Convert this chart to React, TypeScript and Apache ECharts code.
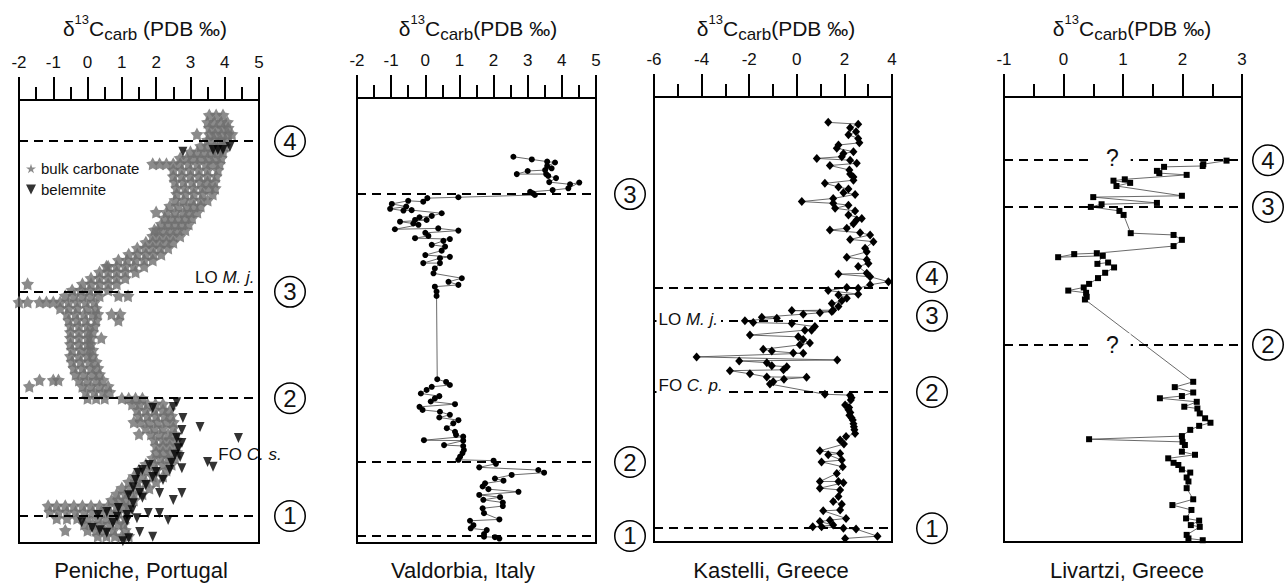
import React, { useEffect, useRef } from 'react';
import * as echarts from 'echarts';

// ---------- Tick / axis ranges ----------
const penicheRange = [-2, 5, 1];
const valdorbiaRange = [-2, 5, 1];
const kastelliRange = [-6, 4, 2];
const livartziRange = [-1, 3, 1];

// ---------- Site names ----------
const siteNames = ['Peniche, Portugal', 'Valdorbia, Italy', 'Kastelli, Greece', 'Livartzi, Greece'];

// ---------- Peniche, bulk carbonate: [height, d13C values...] ----------
const penicheBulkRows = [
  [96.6, 3.55, 3.75, 3.95],
  [95.0, 3.5, 3.7, 3.9, 4.08],
  [93.7, 3.55, 3.75, 3.95, 4.1],
  [92.3, 3.19, 3.55, 3.72, 3.9, 4.1, 4.21],
  [91.0, 3.5, 3.7, 3.88, 4.02],
  [89.6, 3.3, 3.5, 3.7, 3.88, 4.0],
  [88.3, 3.0, 3.2, 3.42, 3.62, 3.8, 3.95],
  [86.9, 2.7, 2.9, 3.1, 3.3, 3.5, 3.7, 3.9],
  [85.6, 1.9, 2.1, 2.3, 2.5, 2.7, 2.95, 3.2, 3.45, 3.65, 3.85],
  [84.2, 2.5, 2.75, 3.0, 3.25, 3.5, 3.8],
  [82.8, 2.5, 2.75, 3.0, 3.25, 3.5, 3.75],
  [81.5, 2.55, 2.8, 3.05, 3.3, 3.5, 3.7],
  [80.1, 2.6, 2.85, 3.1, 3.35, 3.55, 3.72],
  [78.8, 2.6, 2.85, 3.1, 3.35, 3.65],
  [77.4, 2.55, 2.8, 3.05, 3.3, 3.5],
  [76.1, 2.4, 2.65, 2.9, 3.1, 3.3],
  [74.7, 2.0, 2.3, 2.55, 2.8, 3.0, 3.2],
  [73.4, 2.25, 2.45, 2.65, 2.85, 3.05],
  [72.0, 2.15, 2.35, 2.55, 2.75, 2.95],
  [70.7, 1.95, 2.05, 2.25, 2.45, 2.65, 2.85],
  [69.3, 1.9, 2.1, 2.3, 2.5, 2.7],
  [67.9, 1.7, 1.9, 2.1, 2.3, 2.5],
  [66.6, 1.45, 1.68, 1.9, 2.12, 2.35],
  [65.2, 1.2, 1.45, 1.7, 1.92, 2.15],
  [63.9, 0.9, 1.15, 1.4, 1.65, 1.9],
  [62.5, 0.55, 0.6, 0.85, 1.1, 1.35, 1.65],
  [61.2, 0.35, 0.6, 0.85, 1.1, 1.4],
  [59.8, 0.1, 0.35, 0.6, 0.85, 1.1],
  [58.5, -1.75, -0.15, 0.1, 0.35, 0.6, 0.85],
  [57.1, -0.45, -0.2, 0.05, 0.3, 0.6],
  [55.8, -0.65, -0.4, -0.15, 0.1, 0.35, 0.9, 1.18],
  [54.4, -2.0, -1.75, -1.4, -1.2, -1.0, -0.8, -0.55, -0.3, -0.05, 0.2],
  [53.0, -0.8, -0.55, -0.3, 0.0, 0.25],
  [51.7, -0.6, -0.35, -0.1, 0.15, 0.3, 0.7, 0.95],
  [50.3, -0.55, -0.3, -0.05, 0.25, 0.9],
  [49.0, -0.5, -0.25, 0.0, 0.2],
  [47.6, -0.5, -0.25, 0.0, 0.15],
  [46.3, -0.5, -0.25, 0.0, 0.1, 0.4],
  [44.9, -0.5, -0.25, 0.0, 0.1],
  [43.6, -0.45, -0.2, 0.0, 0.15],
  [42.2, -0.5, -0.25, 0.0, 0.15],
  [40.9, -0.45, -0.2, 0.05, 0.25],
  [39.5, -0.4, -0.15, 0.1, 0.3],
  [38.1, -0.35, -0.1, 0.15, 0.35],
  [36.8, -1.4, -1.0, -0.85, -0.25, 0.0, 0.25, 0.45],
  [35.4, -1.7, -0.15, 0.1, 0.35, 0.6],
  [34.1, -0.05, 0.2, 0.45, 0.65],
  [32.7, 0.0, 0.25, 0.5, 1.0, 1.2, 1.4, 1.6],
  [31.4, 1.3, 1.52, 1.75, 1.98, 2.2],
  [30.0, 1.45, 1.7, 1.95, 2.2, 2.4],
  [28.7, 1.5, 1.75, 2.0, 2.25, 2.45],
  [27.3, 1.35, 1.55, 1.8, 2.05, 2.3, 2.5],
  [26.0, 1.7, 1.95, 2.2, 2.5],
  [24.6, 1.5, 1.85, 2.1, 2.35, 2.55],
  [23.3, 1.95, 2.2, 2.4, 2.6],
  [21.9, 2.0, 2.2, 2.4, 2.6],
  [20.5, 2.0, 2.2, 2.4, 2.6],
  [19.2, 1.9, 2.12, 2.35, 2.55],
  [17.8, 1.7, 1.95, 2.2, 2.45],
  [16.5, 1.5, 1.75, 2.0, 2.3],
  [15.1, 1.35, 1.6, 1.9, 2.2],
  [13.8, 1.2, 1.45, 1.7, 2.0],
  [12.4, 1.0, 1.25, 1.5, 1.8],
  [11.1, 0.85, 1.1, 1.35, 1.6],
  [9.7, 0.7, 0.9, 1.1, 1.35],
  [8.4, -1.15, -0.9, -0.65, -0.4, -0.15, 0.1, 0.35, 0.6, 0.85, 1.05, 1.2],
  [7.0, -1.1, -0.85, -0.6, -0.35, -0.1, 0.15, 0.4, 0.65, 0.9, 1.15],
  [5.6, -0.9, -0.6, -0.3, 0.0, 0.3, 0.55, 0.8, 1.1],
  [4.3, -0.1, 0.15, 0.4, 0.65, 0.9, 1.05],
  [2.9, -0.65, 0.0, 0.25, 0.5, 0.75, 1.1],
  [1.6, 0.3, 0.55, 0.8, 1.0, 1.2],
];

// ---------- Peniche, belemnite: [d13C, height] ----------
const penicheBelemnite = [
  [2.78, 88.3], [3.66, 88.7], [3.8, 88.7], [3.95, 88.7], [4.15, 89.4],
  [2.6, 31.8], [2.5, 30.7], [1.9, 30.5], [2.78, 28.2], [3.28, 26.2], [4.4, 23.7], [2.75, 22.6],
  [2.6, 23.7], [2.75, 25.5], [2.7, 19.4], [2.55, 19.9], [2.65, 21.4], [3.5, 18.3], [3.66, 17.2],
  [2.75, 16.9], [2.45, 18.1], [2.4, 16.5], [2.2, 14.2], [1.9, 14.9], [2.0, 16.0], [1.8, 17.6],
  [1.6, 16.5], [1.47, 15.8], [1.4, 14.2], [1.7, 13.1], [1.33, 12.6], [1.52, 11.3], [2.1, 11.3],
  [2.75, 11.3], [2.5, 9.7], [1.2, 10.8], [1.6, 10.2], [1.33, 9.0], [0.9, 7.9], [1.3, 7.4],
  [0.56, 7.0], [1.77, 6.8], [2.1, 6.8], [1.15, 6.3], [0.3, 6.3], [0.86, 5.9], [1.44, 5.6],
  [2.35, 5.2], [1.15, 5.0], [-0.17, 4.7], [0.74, 4.5], [0.13, 3.4], [0.36, 2.9], [1.52, 2.5],
  [0.56, 2.3], [1.9, 1.4], [1.2, 1.1], [1.03, 0.4],
];

// ---------- Valdorbia: [d13C, height] ----------
const valdorbiaData = [
  [2.58, 86.8], [3.12, 86.2], [3.57, 85.7], [3.8, 85.5], [3.57, 84.7], [3.7, 84.2], [3.51, 83.8],
  [3.0, 83.6], [2.68, 82.9], [3.54, 82.9], [3.6, 82.5], [3.83, 82.0], [3.63, 81.1], [4.24, 80.6],
  [4.51, 81.0], [4.19, 79.7], [3.73, 79.3], [3.07, 78.9], [3.15, 78.6], [3.21, 78.2], [0.97, 77.7],
  [0.06, 77.5], [-0.06, 76.7], [-0.5, 76.9], [-0.98, 76.2], [-0.56, 75.6], [-1.03, 75.1],
  [-0.64, 74.7], [-0.4, 74.8], [0.48, 74.1], [0.19, 73.5], [-0.17, 73.2], [-0.3, 72.6], [0.04, 72.6],
  [-0.74, 72.2], [-0.35, 71.8], [-0.2, 71.5], [-0.89, 70.5], [0.38, 70.7], [0.97, 70.2], [0.0, 69.7],
  [0.09, 69.0], [-0.3, 68.5], [0.72, 68.3], [0.53, 67.9], [0.19, 67.0], [0.58, 66.6], [0.48, 65.7],
  [0.0, 64.7], [0.72, 64.3], [0.43, 64.0], [-0.06, 62.9], [0.43, 62.9], [0.28, 61.7], [0.24, 60.6],
  [1.07, 59.5], [0.68, 58.7], [0.97, 58.0], [0.28, 57.6], [0.33, 56.5], [0.33, 55.5], [0.35, 36.8],
  [0.61, 36.2], [0.72, 35.5], [0.19, 35.1], [0.04, 34.4], [-0.13, 33.6], [0.41, 33.0], [0.28, 32.5],
  [0.16, 31.8], [0.87, 31.2], [-0.17, 30.6], [-0.08, 29.9], [0.43, 29.5], [0.72, 28.8], [0.41, 28.2],
  [0.97, 27.6], [0.82, 26.9], [0.63, 25.8], [0.87, 25.0], [0.9, 24.3], [1.11, 23.9], [-0.04, 23.1],
  [1.11, 23.0], [0.55, 22.0], [1.11, 21.8], [1.13, 20.9], [1.09, 20.2], [1.02, 19.4], [0.97, 18.7],
  [2.0, 18.5], [2.07, 17.8], [1.58, 17.0], [3.31, 16.4], [3.48, 15.8], [2.53, 15.3], [2.04, 14.5],
  [2.29, 14.0], [1.75, 13.4], [1.68, 12.7], [1.85, 12.1], [2.73, 11.5], [1.58, 10.8], [2.19, 10.3],
  [1.7, 9.7], [2.27, 9.1], [2.27, 8.3], [1.68, 7.8], [1.72, 6.7], [2.17, 5.3], [1.31, 5.0],
  [1.41, 4.0], [1.33, 3.3], [1.8, 2.9], [1.72, 2.0], [1.72, 1.4], [2.04, 1.3], [2.17, 1.0],
];

// ---------- Kastelli: [d13C, height] ----------
const kastelliData = [
  [1.32, 94.3], [2.58, 93.9], [2.24, 93.1], [2.49, 92.2], [2.17, 91.5], [2.58, 90.7], [2.63, 89.7],
  [1.75, 89.2], [1.68, 88.5], [2.38, 87.7], [1.96, 87.3], [1.89, 86.6], [0.84, 86.2], [2.24, 85.8],
  [2.52, 85.1], [1.39, 84.6], [2.21, 83.6], [2.24, 82.7], [2.38, 82.0], [2.38, 81.3], [1.18, 80.6],
  [1.75, 79.8], [2.17, 79.3], [1.96, 78.5], [2.45, 78.1], [1.53, 77.2], [0.21, 76.5], [1.53, 76.1],
  [2.17, 75.7], [1.61, 75.0], [2.45, 74.4], [2.17, 73.5], [2.73, 72.7], [2.52, 72.4], [2.38, 71.5],
  [2.1, 70.5], [1.39, 70.1], [2.66, 69.5], [3.08, 69.0], [2.24, 68.0], [3.22, 67.5], [2.87, 66.0],
  [2.94, 65.2], [2.1, 64.0], [2.94, 63.4], [3.01, 62.6], [2.58, 61.9], [2.94, 60.4], [1.75, 60.2],
  [3.08, 59.6], [3.85, 58.5], [3.08, 57.8], [2.58, 57.0], [2.1, 57.2], [1.32, 56.5], [2.58, 55.7],
  [1.75, 55.5], [2.1, 54.8], [1.89, 54.2], [1.47, 53.6], [1.75, 52.9], [1.53, 52.1], [-0.21, 52.0],
  [1.47, 51.8], [0.97, 51.5], [0.27, 51.2], [-1.47, 50.5], [-0.84, 50.3], [-2.18, 49.7], [-1.83, 49.3],
  [-0.21, 49.1], [0.76, 48.4], [0.62, 47.6], [0.34, 47.6], [-1.97, 46.5], [0.06, 46.1], [0.27, 45.5],
  [0.55, 44.7], [0.13, 44.3], [-1.41, 43.3], [-1.05, 42.9], [-0.15, 42.5], [0.27, 42.4], [-4.21, 41.6],
  [1.7, 40.9], [-2.42, 40.7], [-1.26, 40.3], [-1.05, 39.6], [-0.42, 39.4], [-0.56, 38.7], [-2.81, 38.5],
  [-1.97, 37.8], [-1.26, 37.1], [0.41, 37.0], [-0.54, 36.6], [-0.99, 36.0], [-1.13, 35.5], [1.18, 33.2],
  [2.24, 33.0], [2.3, 32.4], [2.27, 31.9], [2.03, 30.8], [2.2, 30.2], [2.17, 29.7], [2.25, 29.1],
  [2.21, 28.5], [2.3, 27.9], [2.35, 27.4], [2.38, 26.6], [2.4, 25.9], [2.42, 25.2], [2.45, 24.4],
  [2.07, 23.7], [1.82, 22.9], [1.98, 22.0], [0.97, 20.5], [1.82, 19.9], [1.32, 19.6], [1.89, 18.4],
  [1.04, 18.0], [1.93, 16.9], [1.68, 15.4], [0.97, 13.6], [1.75, 13.6], [1.96, 13.3], [0.97, 12.1],
  [1.82, 11.7], [1.75, 10.2], [1.53, 9.1], [1.89, 8.5], [1.82, 7.2], [1.11, 7.0], [2.07, 5.3],
  [1.39, 4.9], [0.97, 4.6], [1.53, 3.8], [0.67, 3.4], [1.04, 3.4], [1.96, 3.1], [2.49, 2.9],
  [3.39, 1.3], [2.03, 0.8],
];

// ---------- Livartzi: [d13C, height] ----------
const livartziData = [
  [2.74, 85.7], [2.35, 84.9], [2.34, 84.5], [1.69, 84.3], [1.57, 83.4], [1.61, 82.9], [2.07, 82.5],
  [1.03, 81.5], [0.84, 81.2], [1.12, 80.7], [0.89, 80.0], [1.99, 77.8], [0.5, 77.5], [1.57, 76.2],
  [0.64, 75.9], [0.46, 75.3], [0.94, 74.4], [1.01, 73.5], [1.13, 69.4], [1.85, 69.0], [1.99, 67.9],
  [1.85, 66.5], [0.56, 64.9], [0.18, 64.7], [-0.09, 64.0], [0.66, 64.3], [0.57, 62.5], [0.75, 62.8],
  [0.85, 61.7], [0.7, 60.5], [0.58, 59.3], [0.43, 58.0], [0.34, 57.2], [0.08, 56.5], [0.38, 56.0],
  [0.39, 55.1], [0.36, 54.5], [2.18, 36.0], [1.87, 34.8], [2.18, 33.6], [1.99, 32.8], [1.62, 32.3],
  [2.24, 31.5], [2.03, 30.4], [2.25, 30.0], [2.29, 28.9], [2.38, 27.8], [2.47, 26.8], [2.28, 26.1],
  [2.13, 25.2], [1.99, 23.8], [0.43, 23.1], [2.0, 22.5], [2.04, 21.8], [1.99, 20.3], [2.21, 19.6],
  [1.76, 18.8], [1.85, 17.8], [1.93, 17.3], [1.99, 16.3], [2.13, 15.6], [2.07, 14.5], [2.1, 13.6],
  [2.07, 12.1], [2.18, 9.6], [1.83, 8.3], [2.15, 7.2], [2.06, 5.3], [2.28, 4.8], [2.14, 3.8],
  [2.29, 3.4], [2.07, 1.6], [2.1, 0.8], [2.34, 0.4],
];

// ---------- Zone boundaries (height) and their labels ----------
const penicheZones = [90.7, 56.7, 32.7, 6.1];
const penicheZoneLabels = ['4', '3', '2', '1'];
const valdorbiaZones = [78.4, 18.2, 1.6];
const valdorbiaZoneLabels = ['3', '2', '1'];
const kastelliZones = [57.1, 49.7, 33.7, 3.1];
const kastelliZoneLabels = ['4', '3', '2', '1'];
const livartziZones = [85.8, 75.3, 44.3];
const livartziZoneLabels = ['4', '3', '2'];

const FONT = '"Liberation Sans", Arial, Helvetica, sans-serif';
const STAR = 'path://M50,0 L61,35 L98,35 L68,57 L79,91 L50,70 L21,91 L32,57 L2,35 L39,35 Z';
const FAT_STAR = 'path://M50,0 L65.9,28.2 L97.6,34.5 L75.7,58.3 L79.4,90.5 L50,77 L20.6,90.5 L24.3,58.3 L2.4,34.5 L34.1,28.2 Z';
const TRI_DOWN = 'path://M0,0 L10,0 L5,10 Z';

const grids = [
  { left: 19, top: 100, width: 240, height: 443 },
  { left: 357, top: 98, width: 239, height: 445 },
  { left: 654, top: 97, width: 238, height: 445 },
  { left: 1004, top: 97, width: 238, height: 445 },
];
const ranges = [penicheRange, valdorbiaRange, kastelliRange, livartziRange];
const circleDist = [31, 34, 40, 26];

function circleLabel(dist: number) {
  return {
    show: true,
    position: 'end',
    distance: dist,
    align: 'center',
    verticalAlign: 'middle',
    width: 29,
    height: 29,
    lineHeight: 29,
    borderRadius: 16,
    borderColor: '#000',
    borderWidth: 1.5,
    backgroundColor: '#fff',
    fontSize: 24,
    fontFamily: FONT,
    color: '#111',
    padding: 0,
  };
}

function zoneMarkLine(zones: number[], labels: string[], dist: number, offsets?: number[]) {
  return {
    silent: true,
    symbol: ['none', 'none'],
    animation: false,
    lineStyle: { type: [9, 6], color: '#000', width: 2 },
    label: circleLabel(dist),
    emphasis: { disabled: true },
    data: zones.map((y, i) => ({
      yAxis: y,
      label: { formatter: labels[i], offset: [0, offsets ? offsets[i] : 0] },
    })),
  };
}

const italicRich = { i: { fontStyle: 'italic', fontSize: 17, fontFamily: FONT, color: '#111' } };

function annot(coord: number[], text: string, position: string, extra: any = {}) {
  return {
    coord,
    label: {
      show: true,
      formatter: text,
      position,
      distance: 2,
      fontSize: 17,
      fontFamily: FONT,
      color: '#111',
      rich: italicRich,
      ...extra,
    },
  };
}

function markPts(data: any[]) {
  return {
    silent: true,
    symbol: 'circle',
    symbolSize: 1,
    animation: false,
    itemStyle: { color: 'rgba(0,0,0,0)' },
    data,
  };
}

const titleRich = {
  d: { fontSize: 21, lineHeight: 30, fontFamily: FONT, color: '#111' },
  s: { fontSize: 13, lineHeight: 13, verticalAlign: 'top', fontFamily: FONT, color: '#111' },
  b: { fontSize: 17, lineHeight: 19, verticalAlign: 'bottom', fontFamily: FONT, color: '#111' },
};
const titleCenters = [145, 478, 776, 1132];
const titleTexts = [
  '{d|δ}{s|13}{d|C}{b|carb}{d| (PDB ‰)}',
  '{d|δ}{s|13}{d|C}{b|carb}{d|(PDB ‰)}',
  '{d|δ}{s|13}{d|C}{b|carb}{d|(PDB ‰)}',
  '{d|δ}{s|13}{d|C}{b|carb}{d|(PDB ‰)}',
];
const siteCenters = [141, 463, 771, 1127];

export default function App() {
  const ref = useRef<HTMLDivElement>(null);
  useEffect(() => {
    const chart = echarts.init(ref.current!, null, { renderer: 'svg' });
    const penicheBulk = penicheBulkRows.flatMap((row) => row.slice(1).map((x) => [x, row[0]]));

    const option: any = {
      animation: false,
      backgroundColor: '#fff',
      textStyle: { fontFamily: FONT },
      title: [
        ...titleTexts.map((t, i) => ({
          text: t,
          left: titleCenters[i],
          top: 13,
          textAlign: 'center',
          padding: 0,
          textStyle: { fontWeight: 'normal', fontSize: 21, lineHeight: 30, fontFamily: FONT, color: '#111', rich: titleRich },
        })),
        ...siteNames.map((t, i) => ({
          text: t,
          left: siteCenters[i],
          top: 559,
          textAlign: 'center',
          padding: 0,
          textStyle: { fontWeight: 'normal', fontSize: 22, fontFamily: FONT, color: '#111' },
        })),
      ],
      legend: {
        data: [
          { name: 'bulk carbonate', icon: STAR },
          { name: 'belemnite', icon: TRI_DOWN },
        ],
        orient: 'vertical',
        left: 21,
        top: 156,
        itemWidth: 10,
        itemHeight: 10,
        itemGap: 6,
        selectedMode: false,
        textStyle: { fontSize: 15, fontFamily: FONT, color: '#111' },
      },
      grid: grids.map((g) => ({ ...g, show: true, borderColor: '#000', borderWidth: 2, backgroundColor: 'transparent' })),
      xAxis: ranges.map((r, i) => ({
        gridIndex: i,
        type: 'value',
        position: 'top',
        min: r[0],
        max: r[1],
        interval: r[2],
        axisLine: { show: true, onZero: false, lineStyle: { color: '#000', width: 2 } },
        axisTick: { show: true, length: 23, lineStyle: { color: '#000', width: 2 } },
        minorTick: { show: true, splitNumber: 2, length: 13, lineStyle: { color: '#000', width: 2 } },
        axisLabel: { margin: 29, fontSize: 17, fontFamily: FONT, color: '#111', showMinLabel: true, showMaxLabel: true },
        splitLine: { show: false },
        minorSplitLine: { show: false },
      })),
      yAxis: grids.map((_, i) => ({ gridIndex: i, type: 'value', min: 0, max: 100, show: false })),
      series: [
        {
          name: 'bulk carbonate',
          type: 'scatter',
          xAxisIndex: 0,
          yAxisIndex: 0,
          symbol: FAT_STAR,
          symbolSize: 13,
          itemStyle: { color: '#6e6e6e' },
          data: penicheBulk,
          markLine: zoneMarkLine(penicheZones, penicheZoneLabels, circleDist[0]),
          markPoint: markPts([
            annot([5, 60.0], 'LO {i|M. j.}', 'left', { distance: 4 }),
            annot([3.8, 19.9], 'FO {i|C. s.}', 'right', { distance: 0 }),
          ]),
        },
        {
          name: 'belemnite',
          type: 'scatter',
          xAxisIndex: 0,
          yAxisIndex: 0,
          symbol: 'triangle',
          symbolRotate: 180,
          symbolSize: [9, 10],
          itemStyle: { color: '#000' },
          data: penicheBelemnite,
        },
        {
          name: 'Valdorbia',
          type: 'line',
          xAxisIndex: 1,
          yAxisIndex: 1,
          symbol: 'circle',
          symbolSize: 6,
          showAllSymbol: true,
          itemStyle: { color: '#000' },
          lineStyle: { color: '#444', width: 0.8 },
          data: valdorbiaData,
          markLine: zoneMarkLine(valdorbiaZones, valdorbiaZoneLabels, circleDist[1]),
        },
        {
          name: 'Kastelli',
          type: 'line',
          xAxisIndex: 2,
          yAxisIndex: 2,
          symbol: 'diamond',
          symbolSize: [8, 9],
          showAllSymbol: true,
          itemStyle: { color: '#000' },
          lineStyle: { color: '#444', width: 0.8 },
          data: kastelliData,
          markLine: zoneMarkLine(kastelliZones, kastelliZoneLabels, circleDist[2], [-11, -5, 0, 0]),
          markPoint: markPts([
            annot([-6, 49.7], 'LO {i|M. j.}', 'right', { backgroundColor: '#fff', padding: [1, 3, 1, 2], offset: [0, -1] }),
            annot([-6, 33.7], 'FO {i|C. p.}', 'right', { backgroundColor: '#fff', padding: [1, 3, 3, 2], offset: [0, -6] }),
          ]),
        },
        {
          name: 'Livartzi',
          type: 'line',
          xAxisIndex: 3,
          yAxisIndex: 3,
          symbol: 'rect',
          symbolSize: 6,
          showAllSymbol: true,
          itemStyle: { color: '#000' },
          lineStyle: { color: '#444', width: 0.8 },
          data: livartziData,
          markLine: zoneMarkLine(livartziZones, livartziZoneLabels, circleDist[3]),
          markPoint: markPts([
            annot([0.82, 85.8], '?', 'inside', { backgroundColor: '#fff', padding: [0, 12], fontSize: 23, offset: [0, -2] }),
            annot([0.82, 44.3], '?', 'inside', { backgroundColor: '#fff', padding: [0, 12], fontSize: 23, offset: [0, 0] }),
          ]),
        },
      ],
    };
    chart.setOption(option);
    return () => chart.dispose();
  }, []);
  return (
    <div
      ref={ref}
      style={{ position: 'fixed', left: 0, top: 0, width: 1285, height: 586, background: '#fff' }}
    />
  );
}
